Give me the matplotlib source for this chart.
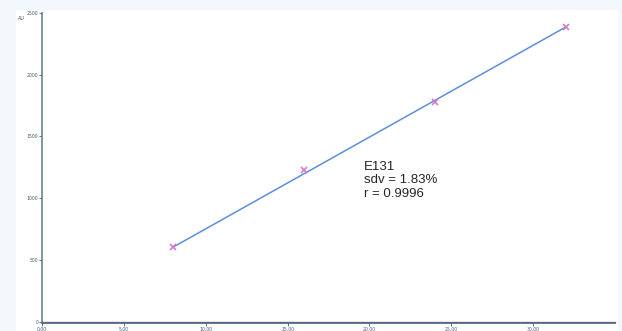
import matplotlib
matplotlib.use("Agg")
import matplotlib.pyplot as plt
from matplotlib.patches import Rectangle

# Data
conc = [8.0, 16.0, 24.0, 32.0]
area = [602, 1226, 1778, 2387]
x_ticks = [0, 5, 10, 15, 20, 25, 30]
x_tick_labels = ["0.00", "5.00", "10.00", "15.00", "20.00", "25.00", "30.00"]
y_ticks = [0, 500, 1000, 1500, 2000, 2500]
y_tick_labels = ["0", "500", "1000", "1500", "2000", "2500"]
annotation = "E131\nsdv = 1.83%\nr = 0.9996"
y_unit = "AU"

W, H = 622, 331
fig = plt.figure(figsize=(W / 100, H / 100), dpi=100)
fig.patch.set_facecolor("#f3f8fc")
fig.patches.append(Rectangle((16 / W, 0), (618 - 16) / W, 1 - 10 / H,
                             transform=fig.transFigure, facecolor="white",
                             edgecolor="none", zorder=-10))

ax = fig.add_axes([42 / W, 1 - 321.5 / H, (615 - 42) / W, (321.5 - 13) / H])
ax.set_zorder(5)
ax.set_facecolor("white")
ax.set_xlim(0, 35)
ax.set_ylim(0, 2500)

# calibration line (first to last standard) and standards
ax.plot([conc[0], conc[-1]], [area[0], area[-1]], color="#5b8fd8", lw=1.1, zorder=2)
ax.plot(conc, area, linestyle="none", marker="x", color="#d47ac8",
        markersize=5, mew=1.2, zorder=3)

ax.axhline(0, color="#e06040", lw=1.0, zorder=1, clip_on=False)

for s in ["top", "right"]:
    ax.spines[s].set_visible(False)
ax.spines["left"].set_color("#6a8090")
ax.spines["bottom"].set_color("#3a6a90")
ax.spines["bottom"].set_position(("outward", 1.2))
ax.spines["left"].set_linewidth(1.2)
ax.spines["bottom"].set_linewidth(1.2)

ax.set_xticks(x_ticks)
ax.set_xticklabels(x_tick_labels)
ax.set_yticks(y_ticks)
ax.set_yticklabels(y_tick_labels)
ax.tick_params(axis="both", labelsize=3.3, length=2, width=0.6,
               colors="#4a5a6a", pad=0.5)

fig.text(18 / W, 1 - 18 / H, y_unit, fontsize=3.5, color="#4a5a6a",
         ha="left", va="center")

ax.text(19.65, 1300, annotation, fontsize=9.5, color="#262626",
        ha="left", va="top", linespacing=1.15, family="Liberation Sans")

fig.savefig("out.png", dpi=100, facecolor=fig.get_facecolor())
